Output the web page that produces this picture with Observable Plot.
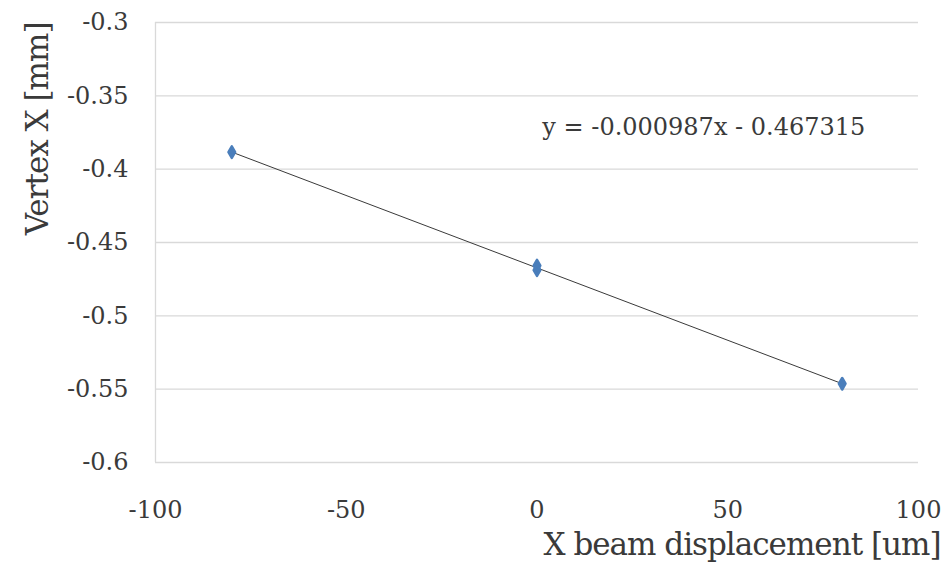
<!DOCTYPE html>
<html>
<head>
<meta charset="utf-8">
<script src="https://cdn.jsdelivr.net/npm/d3@7"></script>
<script src="https://cdn.jsdelivr.net/npm/@observablehq/plot@0.6"></script>
<style>
  html, body { margin: 0; padding: 0; background: #ffffff; }
</style>
</head>
<body>
<div id="chart"></div>
<script>
// Measured vertex X position versus horizontal beam displacement
const displacement = [-80, 0, 0, 80];          // um
const vertexX = [-0.3884, -0.4658, -0.4688, -0.5463]; // mm

// Linear fit reported on the chart
const fitSlope = -0.000987;
const fitIntercept = -0.467315;
const fitRange = [-80, 80];
const fitLabel = "y = -0.000987x - 0.467315";

// Axis ticks and titles
const xTicks = [-100, -50, 0, 50, 100];
const yTicks = [-0.6, -0.55, -0.5, -0.45, -0.4, -0.35, -0.3];
const xTitle = "X beam displacement [um]";
const yTitle = "Vertex X [mm]";

const points = displacement.map((x, i) => ({x, y: vertexX[i]}));
const fitLine = fitRange.map(x => ({x, y: fitSlope * x + fitIntercept}));

const font = "'DejaVu Serif', serif";
const ink = "#3a3a3a";
const gridColor = "#d9d9d9";
const pointColor = "#4A7EBB";

const chart = Plot.plot({
  width: 948,
  height: 569,
  marginLeft: 155,
  marginRight: 30,
  marginTop: 22,
  marginBottom: 107,
  style: {fontFamily: font, fontSize: "24px", color: ink, background: "#ffffff", overflow: "visible"},
  x: {domain: [-100, 100], label: null},
  y: {domain: [-0.6, -0.3], label: null},
  marks: [
    Plot.gridY(yTicks, {stroke: gridColor, strokeOpacity: 1, strokeWidth: 1.3}),
    Plot.ruleX([-100], {stroke: gridColor, strokeWidth: 1.3}),
    Plot.axisY(yTicks, {tickSize: 0, tickPadding: 27, tickFormat: d => String(d), fill: ink, fontSize: 24}),
    Plot.axisX(xTicks, {tickSize: 0, tickPadding: 38, tickFormat: d => String(d), fill: ink, fontSize: 24}),
    Plot.line(fitLine, {x: "x", y: "y", stroke: ink, strokeWidth: 1}),
    Plot.dot(points, {x: "x", y: "y", symbol: "diamond", r: 3.5, fill: pointColor, stroke: pointColor, strokeWidth: 2.5, strokeLinejoin: "round"}),
    Plot.text([fitLabel], {x: 1.4, y: -0.3716, textAnchor: "start", fill: ink, fontSize: 24}),
    Plot.text([xTitle], {frameAnchor: "bottom-right", dx: 22, dy: 92, textAnchor: "end", fill: ink, fontSize: 31}),
    Plot.text([yTitle], {frameAnchor: "top-left", dx: -130, dy: 0, rotate: -90, textAnchor: "end", fill: ink, fontSize: 31})
  ]
});

// tighten the axis titles slightly
chart.querySelectorAll("text").forEach(t => {
  if (t.textContent === xTitle || t.textContent === yTitle) t.setAttribute("letter-spacing", "-1");
});

document.getElementById("chart").appendChild(chart);
</script>
</body>
</html>
